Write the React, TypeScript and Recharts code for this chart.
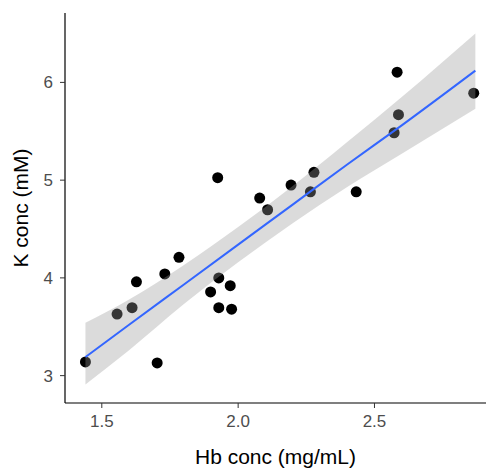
import {
  ComposedChart,
  Scatter,
  Area,
  Line,
  XAxis,
  YAxis,
  Label,
} from "recharts";

// observed samples
const hbConc = [
  1.44, 1.556, 1.611, 1.627, 1.731, 1.783, 1.703, 1.899, 1.929, 1.971, 1.929,
  1.976, 1.925, 2.079, 2.108, 2.194, 2.278, 2.265, 2.433, 2.583, 2.588, 2.572,
  2.864,
];
const kConc = [
  3.14, 3.63, 3.695, 3.96, 4.04, 4.21, 3.13, 3.856, 4.0, 3.92, 3.695, 3.68,
  5.025, 4.817, 4.697, 4.95, 5.08, 4.88, 4.88, 6.105, 5.67, 5.485, 5.89,
];

// fitted line and its confidence band
const fitX = [1.44, 1.6, 1.8, 2.0, 2.2, 2.4, 2.6, 2.87];
const fitY = [3.19, 3.52, 3.93, 4.34, 4.75, 5.16, 5.56, 6.12];
const bandLow = [2.91, 3.26, 3.73, 4.16, 4.56, 4.93, 5.27, 5.73];
const bandHigh = [3.54, 3.78, 4.13, 4.52, 4.94, 5.39, 5.85, 6.5];

const xTicks = [1.5, 2.0, 2.5];
const yTicks = [3, 4, 5, 6];

const points = hbConc.map((x, i) => ({ x, y: kConc[i] }));
const fit = fitX.map((x, i) => ({
  x,
  y: fitY[i],
  band: [bandLow[i], bandHigh[i]],
}));

const font = "'Liberation Sans', Arial, sans-serif";

const Dot = (p: any) => <circle cx={p.cx} cy={p.cy} r={5.5} fill="#000" />;

export default function App() {
  return (
    <div style={{ position: "absolute", left: 0, top: 0, width: 486, height: 468, background: "#fff" }}>
      <ComposedChart
        width={486}
        height={468}
        margin={{ top: 13, right: 0, left: 0, bottom: 0 }}
        style={{ fontFamily: font }}
      >
        <XAxis
          type="number"
          dataKey="x"
          domain={[1.365, 2.909]}
          allowDataOverflow
          ticks={xTicks}
          tickFormatter={(v: number) => v.toFixed(1)}
          height={65}
          tickSize={5}
          tickMargin={7}
          tick={{ fill: "#4d4d4d", fontSize: 17 }}
          axisLine={{ stroke: "#000", strokeWidth: 1.2 }}
          tickLine={{ stroke: "#333" }}
        >
          <Label
            value="Hb conc (mg/mL)"
            position="insideBottom"
            offset={4}
            style={{ fill: "#000", fontSize: 21 }}
          />
        </XAxis>
        <YAxis
          type="number"
          dataKey="y"
          domain={[2.72, 6.71]}
          allowDataOverflow
          ticks={yTicks}
          width={65}
          tickSize={5}
          tickMargin={7}
          tick={{ fill: "#4d4d4d", fontSize: 17 }}
          axisLine={{ stroke: "#000", strokeWidth: 1.2 }}
          tickLine={{ stroke: "#333" }}
        >
          <Label
            value="K conc (mM)"
            angle={-90}
            position="insideLeft"
            offset={21}
            style={{ fill: "#000", fontSize: 21, textAnchor: "middle" }}
          />
        </YAxis>
        <Scatter
          data={points}
          dataKey="y"
          shape={Dot}
          isAnimationActive={false}
          zIndex={100}
        />
        <Area
          data={fit}
          dataKey="band"
          type="monotone"
          stroke="none"
          fill="#999999"
          fillOpacity={0.35}
          isAnimationActive={false}
          zIndex={700}
        />
        <Line
          data={fit}
          dataKey="y"
          type="monotone"
          stroke="#3366ff"
          strokeWidth={2}
          dot={false}
          isAnimationActive={false}
          zIndex={800}
        />
      </ComposedChart>
    </div>
  );
}
